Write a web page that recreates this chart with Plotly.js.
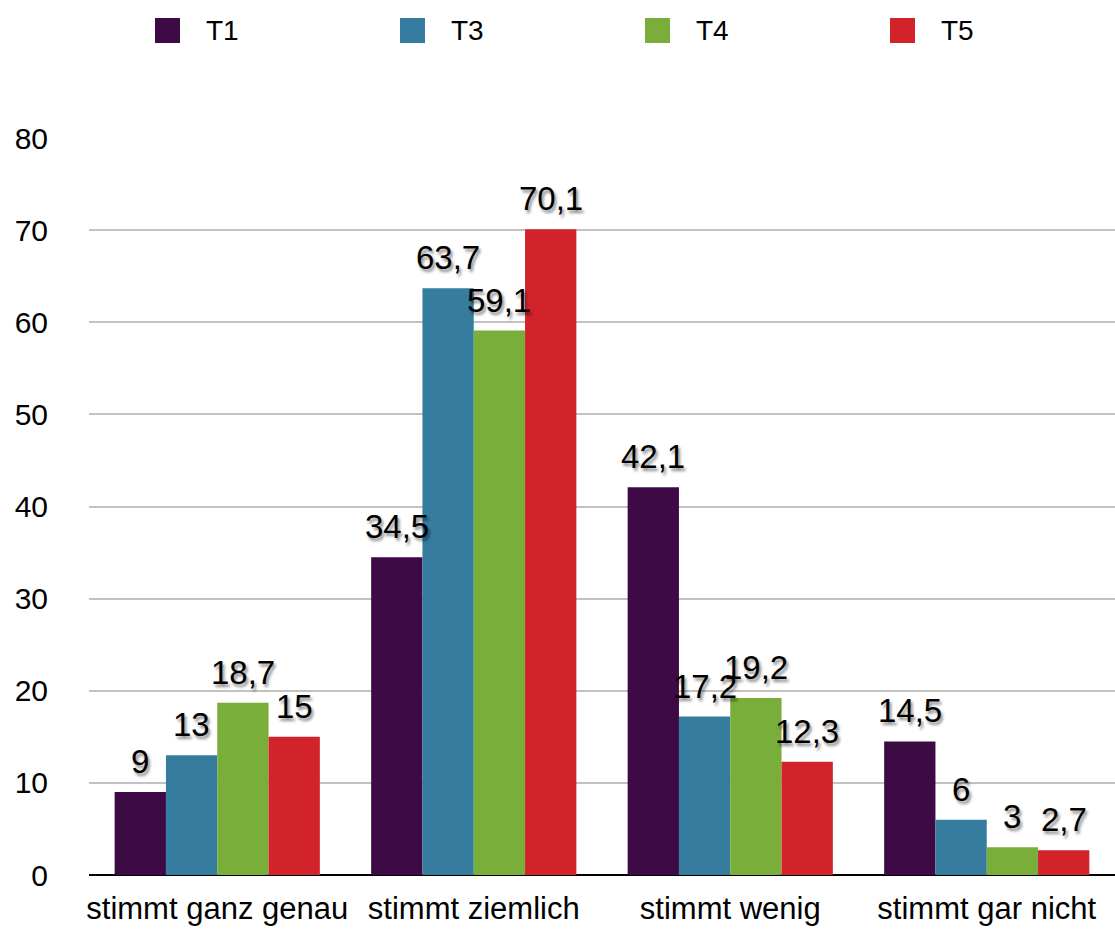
<!DOCTYPE html>
<html>
<head>
<meta charset="utf-8">
<script src="https://cdn.plot.ly/plotly-3.0.1.min.js"></script>
<style>html,body{margin:0;padding:0;background:#fff}#chart{width:1115px;height:931px}</style>
</head>
<body>
<div id="chart"></div>
<script>
const categories = ["stimmt ganz genau", "stimmt ziemlich", "stimmt wenig", "stimmt gar nicht"];
const seriesNames = ["T1", "T3", "T4", "T5"];
const T1 = [9, 34.5, 42.1, 14.5];
const T3 = [13, 63.7, 17.2, 6];
const T4 = [18.7, 59.1, 19.2, 3];
const T5 = [15, 70.1, 12.3, 2.7];
const seriesValues = [T1, T3, T4, T5];
const colors = ["#3d0a46", "#357c9f", "#79ae3a", "#d2232a"];
const yTicks = [0, 10, 20, 30, 40, 50, 60, 70, 80];

const FONT = 'Liberation Sans, Arial, Helvetica, sans-serif';
const fmt = v => String(v).replace('.', ',');
const BARGAP = 0.2;
const n = seriesValues.length;
const bw = (1 - BARGAP) / n;

// plot geometry (pixels)
const W = 1115, H = 931, ML = 89, MR = 0, MT = 138, MB = 56;
const PW = W - ML - MR, PH = H - MT - MB;
const px2x = p => (p - ML) / PW;
const py2y = p => (H - MB - p) / PH;

const traces = seriesValues.map((vals, i) => ({
  type: 'bar',
  name: seriesNames[i],
  x: categories,
  y: vals,
  marker: {color: colors[i], line: {width: 0}},
  hoverinfo: 'y+name',
  showlegend: false
}));

const annotations = [];
seriesValues.forEach((vals, i) => {
  vals.forEach((v, j) => {
    annotations.push({
      xref: 'x', yref: 'y',
      x: j + (i - (n - 1) / 2) * bw,
      y: v,
      text: fmt(v),
      showarrow: false,
      xanchor: 'center', yanchor: 'bottom',
      yshift: 10,
      font: {family: FONT, size: 33, color: '#000',
             shadow: '2px 3px 3px rgba(0,0,0,0.45)'}
    });
  });
});

// custom legend (large square swatches like the original)
const shapes = [];
const LEG_X0 = 155, LEG_STEP = 245, SW = 25, LEG_Y0 = 18;
seriesNames.forEach((name, i) => {
  const x0 = LEG_X0 + i * LEG_STEP;
  shapes.push({
    type: 'rect', xref: 'paper', yref: 'paper',
    x0: px2x(x0), x1: px2x(x0 + SW),
    y0: py2y(LEG_Y0 + SW), y1: py2y(LEG_Y0),
    fillcolor: colors[i], line: {width: 0}
  });
  annotations.push({
    xref: 'paper', yref: 'paper',
    x: px2x(x0 + SW + 24), y: py2y(LEG_Y0 + SW / 2),
    xanchor: 'left', yanchor: 'middle',
    text: name, showarrow: false,
    font: {family: FONT, size: 28, color: '#000'}
  });
});

const layout = {
  width: W, height: H,
  margin: {l: ML, r: MR, t: MT, b: MB},
  paper_bgcolor: '#fff', plot_bgcolor: '#fff',
  barmode: 'group', bargap: BARGAP, bargroupgap: 0,
  font: {family: FONT, color: '#000'},
  separators: ',.',
  showlegend: false,
  xaxis: {
    type: 'category', range: [-0.5, 3.5],
    showgrid: false, zeroline: false, showline: false, ticks: '',
    tickfont: {size: 31, color: '#000'}, ticklabelstandoff: 12,
    fixedrange: true
  },
  yaxis: {
    range: [0, 80], tickvals: yTicks, ticktext: yTicks.map(String),
    showgrid: true, gridcolor: '#c2c2c2', gridwidth: 2,
    zeroline: true, zerolinecolor: '#000', zerolinewidth: 2,
    showline: false, ticks: '',
    tickfont: {size: 30, color: '#000'}, ticklabelstandoff: 40,
    fixedrange: true
  },
  shapes: shapes,
  annotations: annotations
};

Plotly.newPlot('chart', traces, layout, {displayModeBar: false, staticPlot: true});
</script>
</body>
</html>
